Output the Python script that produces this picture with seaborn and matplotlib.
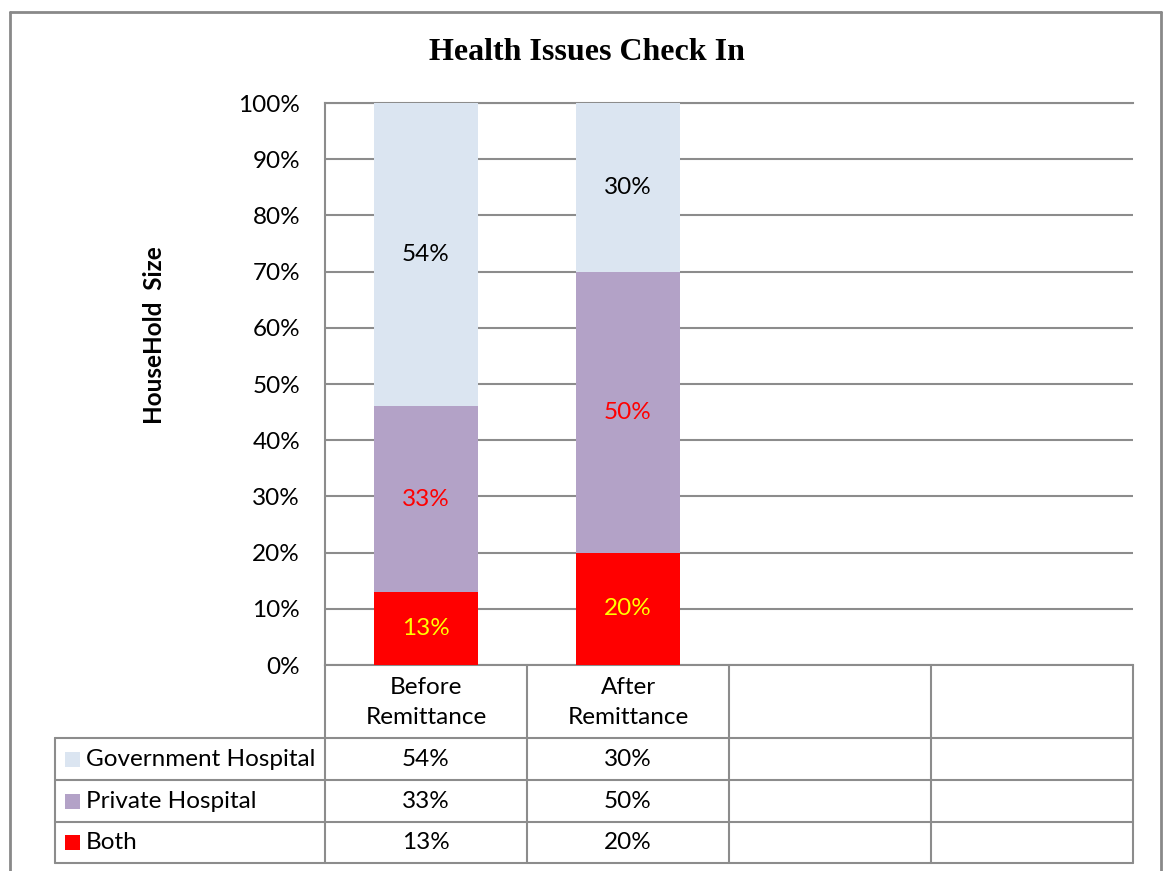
import matplotlib
matplotlib.use("Agg")
import matplotlib.pyplot as plt
import matplotlib.transforms as mtransforms
from matplotlib.lines import Line2D
from matplotlib.patches import Rectangle
import numpy as np
import seaborn as sns

# ---------------- data ----------------
title = "Health Issues Check In"
ylabel = "HouseHold  Size"
categories = ["Before\nRemittance", "After\nRemittance"]
n_slots = 4
series_names = ["Government Hospital", "Private Hospital", "Both"]
government = [54, 30]
private = [33, 50]
both = [13, 20]
yticks = [0, 10, 20, 30, 40, 50, 60, 70, 80, 90, 100]

series_colors = ["#DBE5F1", "#B3A2C7", "#FF0000"]
label_colors = ["#000000", "#FF0000", "#FFFF00"]
grid_col = "#8C8C8C"

sns.set_theme(style="white")
plt.rcParams["font.family"] = ["Lato", "DejaVu Sans"]
plt.rcParams["text.color"] = "black"
plt.rcParams["ytick.color"] = "black"
plt.rcParams["ytick.labelcolor"] = "black"

FS = 17.5

W, H = 1164, 871
fig = plt.figure(figsize=(W / 100, H / 100), dpi=100)

def fx(px):
    return px / W

def fy(py):
    return 1 - py / H

ax_l, ax_r, ax_t, ax_b = 325, 1133, 103, 665
ax = fig.add_axes([fx(ax_l), fy(ax_b), (ax_r - ax_l) / W, (ax_b - ax_t) / H])

# stacked bars (bottom to top: Both, Private, Government)
stack_order = [(both, 2), (private, 1), (government, 0)]
bottom = np.zeros(len(categories))
for vals, idx in stack_order:
    sns.barplot(x=categories, y=vals, bottom=bottom, color=series_colors[idx],
                saturation=1, width=0.51, linewidth=0, ax=ax, zorder=3)
    for i, v in enumerate(vals):
        ax.text(i, bottom[i] + v / 2, f"{v}%", ha="center", va="center",
                fontsize=FS, color=label_colors[idx], zorder=5)
    bottom = bottom + np.array(vals)

ax.set_xlim(-0.5, n_slots - 0.5)
ax.set_ylim(0, 100)
ax.set_yticks(yticks)
ax.set_yticklabels([f"{t}%" for t in yticks], fontsize=FS, color="black")
ax.tick_params(axis="y", length=0, pad=18)
ax.set_xticks([])
ax.set_xlabel("")
ax.yaxis.grid(True, color=grid_col, linewidth=1.5, zorder=0)
ax.set_axisbelow(True)
for s in ["left", "bottom", "top"]:
    ax.spines[s].set_color(grid_col)
    ax.spines[s].set_linewidth(1.5)
ax.spines["right"].set_visible(False)

# title and y label
fig.text(fx(587), fy(53), title, ha="center", va="center", fontsize=23,
         fontweight="bold", family="Liberation Serif", color="black")
fig.text(fx(155), fy(335), ylabel, ha="center", va="center", rotation=90,
         fontsize=FS, fontweight="bold", color="black")

# ---------------- data table ----------------
tr = mtransforms.blended_transform_factory(ax.transData, ax.transAxes)
ph = ax_b - ax_t

def ya(py):
    return (ax_b - py) / ph

left_x = (55 - ax_l) / ((ax_r - ax_l) / n_slots) - 0.5
row_edges = [665, 738, 780, 822, 863]
lkw = dict(color=grid_col, linewidth=1.5, transform=tr, clip_on=False)

# vertical lines at slot boundaries
for b in np.arange(-0.5, n_slots, 1.0):
    ax.add_line(Line2D([b, b], [ya(row_edges[0]), ya(row_edges[-1])], **lkw))
ax.add_line(Line2D([left_x, left_x], [ya(row_edges[1]), ya(row_edges[-1])], **lkw))
for re in row_edges[1:]:
    ax.add_line(Line2D([left_x, n_slots - 0.5], [ya(re), ya(re)], **lkw))

# header
for i, c in enumerate(categories):
    ax.text(i, ya((row_edges[0] + row_edges[1]) / 2 + 1), c, ha="center", va="center",
            fontsize=FS, transform=tr, linespacing=1.55)

# rows
table_vals = [government, private, both]
key_w = 15 / ((ax_r - ax_l) / n_slots)
for r, (name, vals) in enumerate(zip(series_names, table_vals)):
    yc = ya((row_edges[r + 1] + row_edges[r + 2]) / 2)
    ax.add_patch(Rectangle((left_x + 10 / 202, yc - 7.5 / ph), key_w, 15 / ph,
                           facecolor=series_colors[r], edgecolor="none",
                           transform=tr, clip_on=False))
    ax.text(left_x + 31 / 202, yc, name, ha="left", va="center", fontsize=FS,
            transform=tr)
    for i, v in enumerate(vals):
        ax.text(i, yc, f"{v}%", ha="center", va="center", fontsize=FS, transform=tr)

# outer frame
fkw = dict(color="#898989", linewidth=2, transform=fig.transFigure)
fig.add_artist(Line2D([fx(10), fx(1161)], [fy(12), fy(12)], **fkw))
fig.add_artist(Line2D([fx(10), fx(10)], [fy(12), fy(871)], **fkw))
fig.add_artist(Line2D([fx(1161), fx(1161)], [fy(12), fy(871)], **fkw))

fig.savefig("out.png", dpi=100)
